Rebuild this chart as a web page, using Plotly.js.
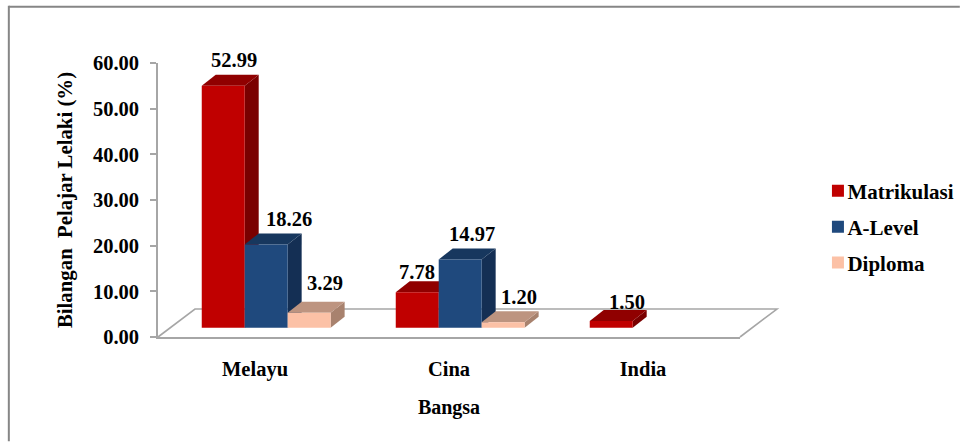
<!DOCTYPE html>
<html><head><meta charset="utf-8">
<script src="https://cdn.plot.ly/plotly-3.0.0.min.js"></script>
<style>html,body{margin:0;padding:0;background:#fff}</style></head>
<body><div id="chart" style="width:960px;height:442px"></div>
<script>
// ---- data ----
const categories = ['Melayu', 'Cina', 'India'];
const categoryIndex = [0, 1, 2];
const seriesNames = ['Matrikulasi', 'A-Level', 'Diploma'];
const matrikulasi = [52.99, 7.78, 1.50];
const aLevel = [18.26, 14.97, null];
const diploma = [3.29, 1.20, null];
const yTicks = [0, 10, 20, 30, 40, 50, 60];

// ---- plot frame (pixels) ----
const plotL = 157.5, plotR = 740, plotT = 63, plotB = 337.5;
const pxPerX = (plotR - plotL) / 3, pxPerY = (plotB - plotT) / 60;
const X = px => px / pxPerX, Y = px => px / pxPerY;
const paperX = px => (px - plotL) / (plotR - plotL);
const paperY = py => (plotB - py) / (plotB - plotT);

// ---- 3-D projection of the bars ----
const floorPxDx = 37, floorPxDy = 28;        // depth of the floor
const barDx = X(14), barDy = Y(11);          // depth of one bar
const baseDy = Y(9.2);                       // where the bars stand on the floor
const barW = X(43);
const groupLeft = -0.2745;

const faceColors = ['#C00000', '#1F497D', '#FCC1A6'];
const sideColors = ['#7A0000', '#142F54', '#A8826E'];
const topColors  = ['#900000', '#17375E', '#BD9480'];
const seriesValues = [matrikulasi, aLevel, diploma];

// label nudges in pixels, per series per category
const labelDx = [[11, 0, 16], [23, 12, 0], [16, 16, 0]];
const labelDy = [[15, 9, 8], [14, 14, 0], [19, 14, 0]];

const traces = [];

// side and top faces, derived from the values
seriesValues.forEach((vals, s) => {
  vals.forEach((v, i) => {
    if (v === null) return;
    const x0 = categoryIndex[i] + groupLeft + s * barW, x1 = x0 + barW;
    const yb = baseDy, yt = baseDy + v;
    traces.push({type:'scatter', mode:'lines', fill:'toself', fillcolor:sideColors[s], line:{width:0},
      x:[x1, x1+barDx, x1+barDx, x1, x1], y:[yb, yb+barDy, yt+barDy, yt, yb], showlegend:false, hoverinfo:'skip'});
    traces.push({type:'scatter', mode:'lines', fill:'toself', fillcolor:topColors[s], line:{width:0},
      x:[x0, x0+barDx, x1+barDx, x1, x0], y:[yt, yt+barDy, yt+barDy, yt, yt], showlegend:false, hoverinfo:'skip'});
  });
});

// front faces: real bars on an identical overlay so that they cover the neighbour's side
seriesValues.forEach((vals, s) => {
  traces.push({type:'bar', name:seriesNames[s], legendgroup:seriesNames[s], x:categoryIndex, y:vals, base:baseDy,
    width:barW, offset:groupLeft + s*barW, xaxis:'x2', yaxis:'y2',
    marker:{color:faceColors[s], line:{width:0}}, hoverinfo:'skip'});
});

const serif = '"Liberation Serif","Times New Roman",serif';
const annotations = [];
seriesValues.forEach((vals, s) => vals.forEach((v, i) => {
  if (v === null) return;
  annotations.push({x: categoryIndex[i] + groupLeft + s*barW + barW/2, y: baseDy + v + barDy,
    text: '<b>' + v.toFixed(2) + '</b>', showarrow:false, xref:'x', yref:'y', xanchor:'center', yanchor:'middle',
    xshift: labelDx[s][i], yshift: labelDy[s][i], font:{family:serif, size:20.5, color:'#000'}});
}));

const floorPath = 'M' + paperX(plotL) + ',' + paperY(plotB) +
  'L' + paperX(plotL+floorPxDx) + ',' + paperY(plotB-floorPxDy) +
  'L' + paperX(plotR+floorPxDx) + ',' + paperY(plotB-floorPxDy) +
  'L' + paperX(plotR) + ',' + paperY(plotB);

const layout = {
  width:960, height:442, paper_bgcolor:'#fff', plot_bgcolor:'rgba(0,0,0,0)',
  margin:{l:plotL, r:960-plotR, t:plotT, b:442-plotB, pad:0, autoexpand:false},
  barmode:'overlay', showlegend:true,
  font:{family:serif, color:'#000'},
  xaxis:{type:'linear', range:[-0.5,2.5], tickmode:'array', tickvals:categoryIndex, ticktext:categories.map(c=>'<b>'+c+'</b>'),
    showgrid:false, zeroline:false, showline:true, linecolor:'#A6A6A6', linewidth:1.6, ticks:'', ticklabelstandoff:13,
    tickfont:{family:serif, size:20.5, color:'#000'},
    title:{text:'<b>Bangsa</b>', font:{family:serif, size:20, color:'#000'}, standoff:20}},
  yaxis:{type:'linear', range:[0,60], tickmode:'array', tickvals:yTicks, ticktext:yTicks.map(t=>'<b>'+t.toFixed(2)+'</b>'),
    showgrid:false, zeroline:false, showline:true, linecolor:'#A6A6A6', linewidth:1.6,
    ticks:'outside', ticklen:6, tickwidth:1.6, tickcolor:'#A6A6A6', ticklabelstandoff:7,
    tickfont:{family:serif, size:20.5, color:'#000'},
    title:{text:'<b>Bilangan  Pelajar Lelaki (%)</b>', font:{family:serif, size:20.8, color:'#000'}, standoff:15}},
  xaxis2:{overlaying:'x', matches:'x', visible:false, range:[-0.5,2.5], type:'linear'},
  yaxis2:{overlaying:'y', matches:'y', visible:false, range:[0,60], type:'linear'},
  legend:{x:paperX(807.5), xref:'paper', xanchor:'left', y:paperY(227), yanchor:'middle',
    bgcolor:'rgba(0,0,0,0)', borderwidth:0,
    traceorder:'grouped', tracegroupgap:5.5, font:{family:serif, size:21, color:'#000', weight:'bold'}},
  shapes:[
    {type:'path', xref:'paper', yref:'paper', layer:'below', path:floorPath, line:{color:'#A6A6A6', width:1.6}},
    {type:'line', xref:'paper', yref:'paper', layer:'below',
      x0:paperX(8.2), x1:paperX(960), y0:paperY(6.7), y1:paperY(6.7), line:{color:'#868686', width:2}},
    {type:'line', xref:'paper', yref:'paper', layer:'below',
      x0:paperX(8.2), x1:paperX(8.2), y0:paperY(5.7), y1:paperY(442), line:{color:'#868686', width:2}}
  ],
  annotations
};
Plotly.newPlot('chart', traces, layout, {displayModeBar:false, responsive:false}).then(() => {
  document.querySelectorAll('#chart .legend .legendpoints').forEach(g => {
    g.setAttribute('transform','translate(10.5,0)');
  });
});
</script></body></html>
